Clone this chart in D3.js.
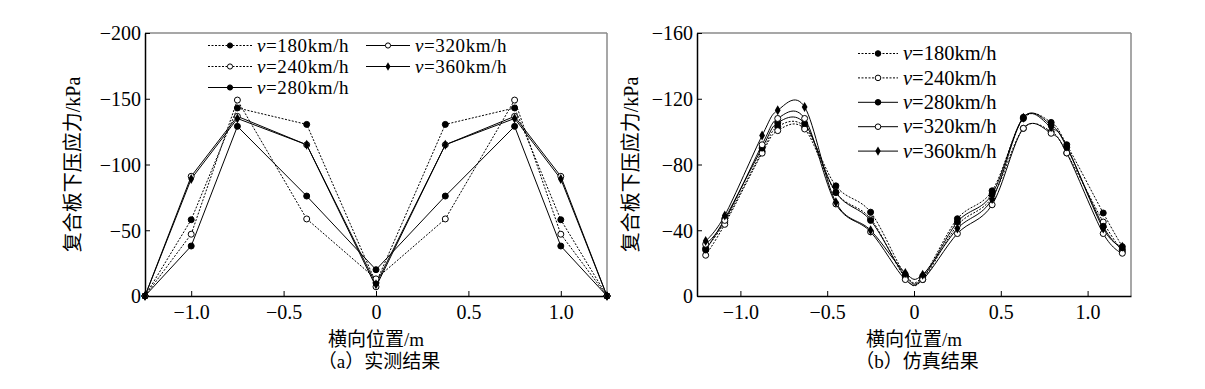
<!DOCTYPE html>
<html>
<head>
<meta charset="utf-8">
<script src="https://cdn.jsdelivr.net/npm/d3@7"></script>
<style>
  body { margin: 0; background: #fff; }
  svg { display: block; }
  text { font-family: "Liberation Serif", "Noto Sans CJK SC", serif; fill: #000; }
</style>
</head>
<body>
<div id="chart-area"></div>
<script>
// (a) measured
const measuredX = [-1.25, -1.0, -0.75, -0.375, 0, 0.375, 0.75, 1.0, 1.25];
const measured180 = [0, -58, -143, -130.5, -10, -130.5, -143, -58, 0];
const measured240 = [0, -47, -149, -58.6, -13, -58.6, -149, -47, 0];
const measured280 = [0, -38, -129, -76, -20, -76, -129, -38, 0];
const measured320 = [0, -91, -136.6, -115, -7, -115, -136.6, -91, 0];
const measured360 = [0, -89, -135, -115, -9, -115, -135, -89, 0];

// (b) simulated
const simX = [-1.2, -1.09, -0.875, -0.785, -0.63, -0.45, -0.25, -0.05, 0.05, 0.25, 0.45, 0.63, 0.79, 0.88, 1.09, 1.2];
const sim180 = [-29, -45, -88, -103, -103, -67, -51, -13, -12, -47, -64, -108, -105.6, -92, -50.5, -30];
const sim240 = [-24.8, -43.6, -86.9, -100.6, -101.6, -63, -47, -11, -10, -43, -60, -102, -100, -87, -45, -27];
const sim280 = [-28, -47, -90, -105.4, -105, -63, -46, -12, -11, -45, -62, -108.7, -104, -90.5, -42.4, -28.3];
const sim320 = [-31.5, -46, -92, -108, -108, -56, -39, -10, -10, -38, -55.5, -102, -99, -87, -38, -26];
const sim360 = [-33.5, -49, -97.6, -113, -115, -57, -40, -14, -13, -41, -59, -108.5, -102.6, -91, -41, -30];

const speedLabels = ["180", "240", "280", "320", "360"];
const xTicks = [-1.0, -0.5, 0, 0.5, 1.0];
const yTicksA = [0, -50, -100, -150, -200];
const yTicksB = [0, -40, -80, -120, -160];

// line dash / marker per speed
const styles = [
    {dash: "2,1.5", marker: "filled"},
    {dash: "2,1.5", marker: "open"},
    {dash: null, marker: "filled"},
    {dash: null, marker: "open"},
    {dash: null, marker: "diamond"}
];

const W = 1205, H = 389;
const svg = d3.select("#chart-area").append("svg")
    .attr("width", W).attr("height", H);

const fmtX = d => d === 0 ? "0" : d3.format(".1f")(d);
const fmtY = d => d === 0 ? "0" : d3.format("d")(d);

function drawMarker(g, type, x, y, r) {
    if (type === "diamond") {
        g.append("path")
            .attr("d", d3.symbol().type(d3.symbolDiamond).size(r * r * 3.2)())
            .attr("transform", `translate(${x},${y})`)
            .attr("fill", "#000");
    } else {
        g.append("circle")
            .attr("cx", x).attr("cy", y).attr("r", r)
            .attr("fill", type === "open" ? "#fff" : "#000")
            .attr("stroke", "#000").attr("stroke-width", 1);
    }
}

function panel(opts) {
    const {left, right, top, bottom, xs, series, yDomain, yTicks, curve, r, yLabelX, caption} = opts;
    const x = d3.scaleLinear().domain([-1.25, 1.25]).range([left, right]);
    const y = d3.scaleLinear().domain(yDomain).range([bottom, top]);
    const g = svg.append("g");

    // gray frame top / right
    g.append("line").attr("x1", left).attr("x2", right).attr("y1", top).attr("y2", top)
        .attr("stroke", "#8a8a8a").attr("stroke-width", 1.5);
    g.append("line").attr("x1", right).attr("x2", right).attr("y1", top).attr("y2", bottom)
        .attr("stroke", "#8a8a8a").attr("stroke-width", 1.5);

    const xAxis = g.append("g").attr("transform", `translate(0,${bottom})`)
        .call(d3.axisBottom(x).tickValues(xTicks).tickFormat(fmtX).tickSizeInner(-5).tickSizeOuter(0).tickPadding(9));
    const yAxis = g.append("g").attr("transform", `translate(${left},0)`)
        .call(d3.axisLeft(y).tickValues(yTicks).tickFormat(fmtY).tickSizeInner(-5).tickSizeOuter(0).tickPadding(4));
    [xAxis, yAxis].forEach(a => {
        a.select(".domain").attr("stroke", "#000").attr("stroke-width", 1.5);
        a.selectAll(".tick line").attr("stroke", "#000");
        a.selectAll(".tick text").attr("font-size", 20)
            .attr("font-family", "Liberation Serif");
    });
    yAxis.selectAll(".tick text").attr("dy", "0.34em");

    const line = d3.line().x(d => x(d[0])).y(d => y(d[1])).curve(curve);
    series.forEach((vals, i) => {
        const pts = xs.map((v, k) => [v, vals[k]]);
        g.append("path").datum(pts)
            .attr("d", line)
            .attr("fill", "none").attr("stroke", "#000")
            .attr("stroke-width", 1)
            .attr("stroke-dasharray", styles[i].dash);
    });
    series.forEach((vals, i) => {
        xs.forEach((v, k) => drawMarker(g, styles[i].marker, x(v), y(vals[k]), r));
    });

    const cx = (left + right) / 2;
    g.append("text").attr("x", cx).attr("y", 346).attr("text-anchor", "middle")
        .attr("font-size", 19).text("横向位置/m");
    g.append("text").attr("x", cx + 3).attr("y", 368).attr("text-anchor", "middle")
        .attr("font-size", 19).text(caption);
    g.append("text")
        .attr("transform", `translate(${yLabelX},${(top + bottom) / 2}) rotate(-90)`)
        .attr("text-anchor", "middle").attr("font-size", 20)
        .text("复合板下压应力/kPa");
    return g;
}

function legendItem(g, i, lx, ly, lineLen, r, fs, ls) {
    g.append("line").attr("x1", lx).attr("x2", lx + lineLen).attr("y1", ly).attr("y2", ly)
        .attr("stroke", "#000").attr("stroke-width", 1)
        .attr("stroke-dasharray", styles[i].dash);
    drawMarker(g, styles[i].marker, lx + lineLen / 2, ly, r);
    g.append("text").attr("x", lx + lineLen + 5).attr("y", ly + fs * 0.33)
        .attr("font-size", fs).attr("letter-spacing", ls)
        .html(`<tspan font-style="italic">v</tspan>=${speedLabels[i]}km/h`);
}

const gA = panel({
    left: 145, right: 607, top: 33, bottom: 296,
    xs: measuredX,
    series: [measured180, measured240, measured280, measured320, measured360],
    yDomain: [0, -200], yTicks: yTicksA, curve: d3.curveLinear, r: 3,
    yLabelX: 80, caption: "（a）实测结果"
});
// legend (a): two columns
[[0, 208, 45.5], [1, 208, 66.5], [2, 208, 87.5], [3, 366, 45.5], [4, 366, 66.5]].forEach(([i, lx, ly]) =>
    legendItem(gA, i, lx, ly, 44, 2.6, 19, 0.6));

const gB = panel({
    left: 697, right: 1131, top: 33, bottom: 296,
    xs: simX,
    series: [sim180, sim240, sim280, sim320, sim360],
    yDomain: [0, -160], yTicks: yTicksB, curve: d3.curveCatmullRom.alpha(0), r: 3,
    yLabelX: 638, caption: "（b）仿真结果"
});
speedLabels.forEach((s, i) => legendItem(gB, i, 858, 53.5 + i * 24.4, 40, 2.8, 20.5, 0));
</script>
</body>
</html>
